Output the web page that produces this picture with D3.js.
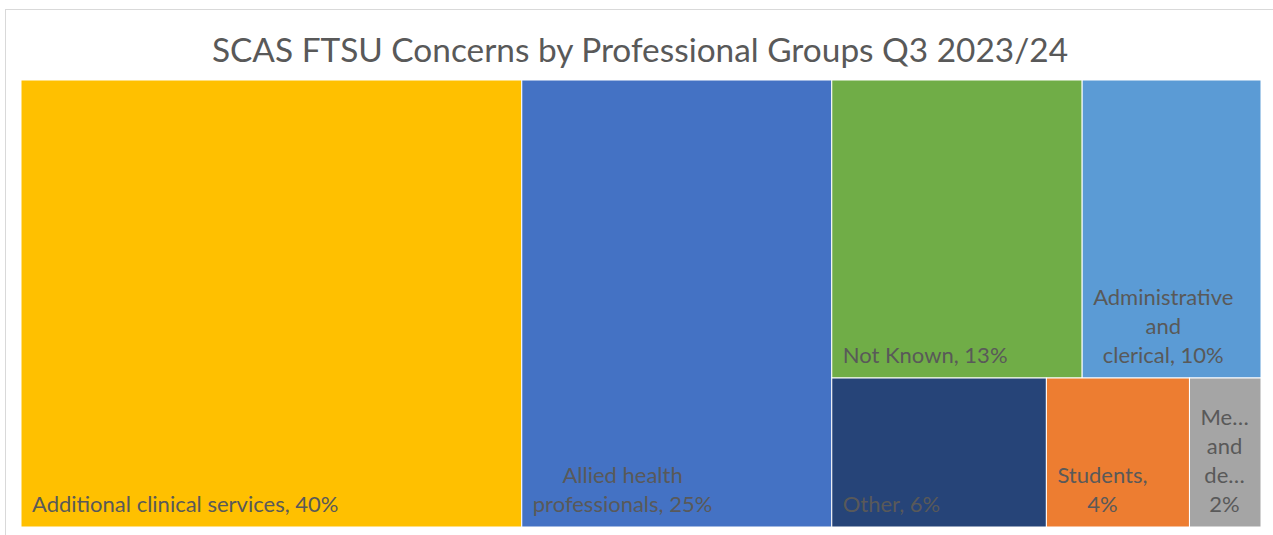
<!DOCTYPE html>
<html>
<head>
<meta charset="utf-8">
<script src="https://cdn.jsdelivr.net/npm/d3@7"></script>
<style>
  html, body { margin: 0; padding: 0; background: #fff; }
  svg { display: block; }
</style>
</head>
<body>
<svg id="chart" width="1273" height="535"></svg>
<script>
// Concerns raised per professional group (counts)
const categories = [
  "Additional clinical services",
  "Allied health professionals",
  "Not Known",
  "Administrative and clerical",
  "Other",
  "Students",
  "Medical and dental"
];
const counts = [21, 13, 7, 5, 3, 2, 1];
const colors = ["#FFC000", "#4472C4", "#70AD47", "#5B9BD5", "#264478", "#ED7D31", "#A5A5A5"];
const title = "SCAS FTSU Concerns by Professional Groups Q3 2023/24";

const W = 1273, H = 535;
const plot = { x0: 21, y0: 80, x1: 1261, y1: 527 };
const FONT = "Lato, 'Noto Sans', sans-serif";
const LABEL_SIZE = 22, LINE_H = 29, PAD = 11;
const TEXT_COLOR = "#595959";

const svg = d3.select("#chart");

// chart frame
svg.append("rect")
  .attr("x", 5.5).attr("y", 9.5)
  .attr("width", W + 10).attr("height", H + 10)
  .attr("fill", "#fff").attr("stroke", "#d9d9d9").attr("stroke-width", 1);

svg.append("text")
  .attr("x", 640).attr("y", 62)
  .attr("text-anchor", "middle")
  .attr("font-family", FONT).attr("font-size", 33.4)
  .attr("fill", TEXT_COLOR)
  .text(title);

const total = d3.sum(counts);
const data = categories.map((name, i) => ({ name, value: counts[i], color: colors[i] }));

const root = d3.hierarchy({ children: data })
  .sum(d => d.value || 0);

d3.treemap()
  .tile(d3.treemapSquarify.ratio(1))
  .size([plot.x1 - plot.x0, plot.y1 - plot.y0])
  (root);

const g = svg.append("g").attr("transform", `translate(${plot.x0},${plot.y0})`);

const cells = g.selectAll("g.cell")
  .data(root.leaves())
  .join("g")
  .attr("class", "cell");

cells.append("rect")
  .attr("x", d => d.x0).attr("y", d => d.y0)
  .attr("width", d => d.x1 - d.x0).attr("height", d => d.y1 - d.y0)
  .attr("fill", d => d.data.color)
  .attr("stroke", "#fff").attr("stroke-width", 1);

// hidden measuring text
const meas = svg.append("text")
  .attr("font-family", FONT).attr("font-size", LABEL_SIZE)
  .attr("visibility", "hidden");
const measure = s => { meas.text(s); return meas.node().getComputedTextLength(); };

function fitWord(word, maxW) {
  if (measure(word) <= maxW) return word;
  let s = word;
  while (s.length > 1 && measure(s + "…") > maxW) s = s.slice(0, -1);
  return s + "…";
}

// Greedy word wrap; the value stays on the same line as the last word of
// the name whenever that pair fits, otherwise the two are split.
function wrapLabel(name, valueText, maxW) {
  const words = name.split(" ");
  const last = words.pop() + ",";
  const tokens = words.slice();
  const tail = last + " " + valueText;
  if (measure(tail) <= maxW) tokens.push(tail);
  else tokens.push(last, valueText);

  const lines = [];
  let cur = "";
  tokens.forEach(w => {
    const trial = cur ? cur + " " + w : w;
    if (measure(trial) <= maxW) cur = trial;
    else {
      if (cur) lines.push(cur);
      cur = fitWord(w, maxW);
    }
  });
  if (cur) lines.push(cur);
  return lines;
}

cells.each(function (d) {
  const w = d.x1 - d.x0;
  const pct = Math.round(d.value / total * 100);
  const lines = wrapLabel(d.data.name, `${pct}%`, w - 2 * PAD - 1);
  const widths = lines.map(measure);
  const blockW = d3.max(widths);
  const cx = d.x0 + PAD + blockW / 2;
  const lastBase = d.y1 - 15;
  const t = d3.select(this).append("text")
    .attr("font-family", FONT).attr("font-size", LABEL_SIZE)
    .attr("fill", TEXT_COLOR)
    .attr("text-anchor", "middle");
  lines.forEach((ln, i) => {
    t.append("tspan")
      .attr("x", cx)
      .attr("y", lastBase - (lines.length - 1 - i) * LINE_H)
      .text(ln);
  });
});
meas.remove();
</script>
</body>
</html>
